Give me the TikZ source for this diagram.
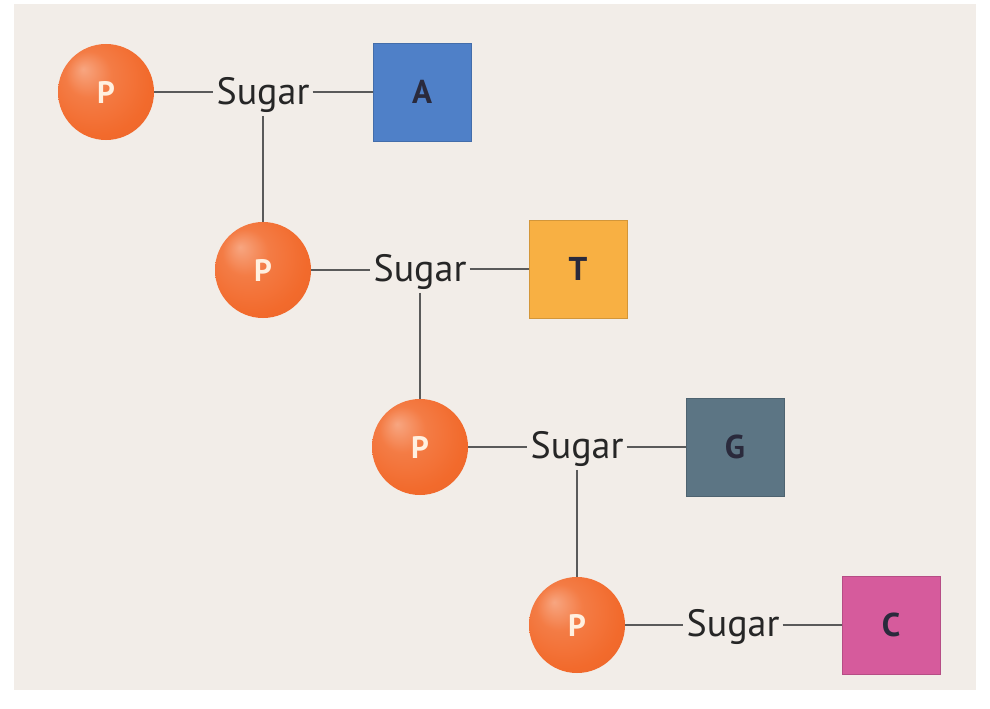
\documentclass[tikz,border=0pt]{standalone}
\usepackage{fontspec}
\setmainfont{PT Sans}
\usepackage{tikz}
\usetikzlibrary{positioning}

\definecolor{panelbg}{HTML}{F2EDE8}
\definecolor{porange}{HTML}{F26A2C}
\definecolor{linegray}{HTML}{5A5A5A}
\definecolor{baseA}{HTML}{4F80C8}
\definecolor{baseT}{HTML}{F8B043}
\definecolor{baseG}{HTML}{5C7584}
\definecolor{baseC}{HTML}{D65B9C}
\definecolor{letterdark}{HTML}{2A2A3C}

\pgfdeclareradialshading{phosball}{\pgfpoint{-12bp}{12bp}}{%
  color(0bp)=(porange!60!white);
  color(12bp)=(porange!88!white);
  color(28bp)=(porange);
  color(45bp)=(porange!94!black);
  color(50bp)=(porange!80!white)}

\begin{document}
\begin{tikzpicture}[x=1pt,y=-1pt,
    phos/.style={circle,minimum size=96pt,inner sep=0pt,shading=phosball,
      text=orange!12!white,font=\fontsize{31}{33}\selectfont\bfseries},
    sugar/.style={inner sep=3pt,text=black!85,font=\fontsize{38}{40}\selectfont},
    base/.style={minimum size=98pt,inner sep=0pt,fill=#1,draw=#1!85!black,
      text=letterdark,font=\fontsize{33}{35}\selectfont\bfseries},
    bond/.style={draw=linegray,line width=1.4pt}]

\useasboundingbox (0,0) rectangle (990,709);
\fill[white] (0,0) rectangle (990,709);
\fill[panelbg] (14,4) rectangle (976,690);

% first nucleotide
\node[phos] (p1) at (106,92) {P};
\node[sugar] (s1) at (263,95) {Sugar};
\node[base=baseA] (bA) at (422,92) {A};

% second nucleotide
\node[phos] (p2) at (263,270) {P};
\node[sugar] (s2) at (420,272) {Sugar};
\node[base=baseT] (bT) at (578,269) {T};

% third nucleotide
\node[phos] (p3) at (420,447) {P};
\node[sugar] (s3) at (577,449) {Sugar};
\node[base=baseG] (bG) at (735,447) {G};

% fourth nucleotide
\node[phos] (p4) at (577,625) {P};
\node[sugar] (s4) at (733,627) {Sugar};
\node[base=baseC] (bC) at (891,625) {C};

% bonds
\draw[bond] (p1) -- (p1 -| s1.west);
\draw[bond] (s1.east |- bA) -- (bA);
\draw[bond] (s1) -- (p2);
\draw[bond] (p2) -- (p2 -| s2.west);
\draw[bond] (s2.east |- bT) -- (bT);
\draw[bond] (s2) -- (p3);
\draw[bond] (p3) -- (p3 -| s3.west);
\draw[bond] (s3.east |- bG) -- (bG);
\draw[bond] (s3) -- (p4);
\draw[bond] (p4) -- (p4 -| s4.west);
\draw[bond] (s4.east |- bC) -- (bC);
\end{tikzpicture}
\end{document}
